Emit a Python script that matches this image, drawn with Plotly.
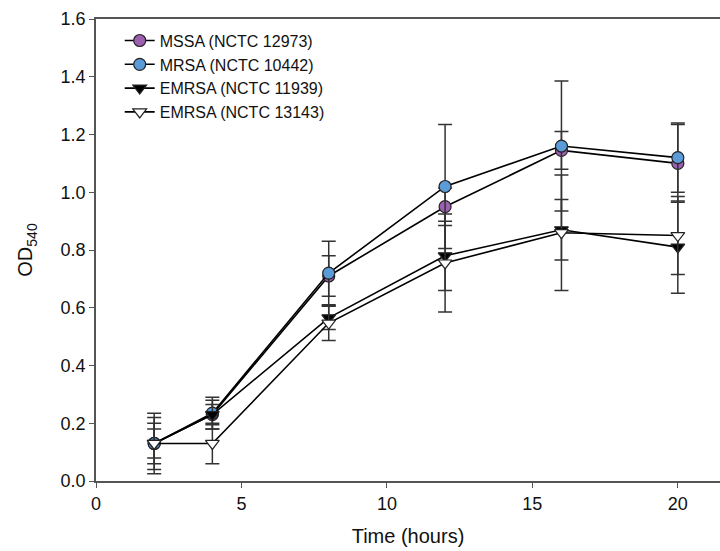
import plotly.graph_objects as go

# Sampling times (hours)
time_h = [2, 4, 8, 12, 16, 20]

# Mean OD540 readings per strain
mssa_12973 = [0.13, 0.23, 0.71, 0.95, 1.145, 1.10]
mrsa_10442 = [0.13, 0.235, 0.72, 1.02, 1.16, 1.12]
emrsa_11939 = [0.13, 0.23, 0.565, 0.78, 0.87, 0.81]
emrsa_13143 = [0.13, 0.13, 0.547, 0.755, 0.86, 0.85]

# Standard deviations
mssa_sd = [0.07, 0.05, 0.07, 0.065, 0.065, 0.135]
mrsa_sd = [0.09, 0.055, 0.11, 0.215, 0.225, 0.12]
emrsa_11939_sd = [0.05, 0.035, 0.04, 0.12, 0.105, 0.16]
emrsa_13143_sd = [0.105, 0.07, 0.06, 0.17, 0.20, 0.135]

series = [
    ("MSSA (NCTC 12973)", mssa_12973, mssa_sd, "circle", "#9d5fb0"),
    ("MRSA (NCTC 10442)", mrsa_10442, mrsa_sd, "circle", "#5b9bd8"),
    ("EMRSA (NCTC 11939)", emrsa_11939, emrsa_11939_sd, "triangle-down", "black"),
    ("EMRSA (NCTC 13143)", emrsa_13143, emrsa_13143_sd, "triangle-down", "white"),
]

fig = go.Figure()
for name, y, sd, sym, col in series:
    fig.add_trace(go.Scatter(
        x=time_h, y=y, name=name, mode="lines+markers",
        line=dict(color="black", width=1.6),
        marker=dict(symbol=sym, size=12, color=col,
                    line=dict(color="#222222", width=1.2)),
        error_y=dict(type="data", array=sd, visible=True,
                     color="#333333", thickness=1.5, width=7),
    ))

font = "Liberation Sans, Arial, sans-serif"
fig.update_layout(
    width=720, height=551,
    margin=dict(l=96, r=0, t=19, b=70),
    paper_bgcolor="white", plot_bgcolor="white",
    font=dict(family=font, size=17, color="#111111"),
    showlegend=True,
    legend=dict(x=0.038, y=0.99, xanchor="left", yanchor="top",
                bgcolor="rgba(0,0,0,0)", font=dict(size=16),
                tracegroupgap=0, itemwidth=30),
    xaxis=dict(range=[0, 21.45], tickvals=[0, 5, 10, 15, 20],
               showgrid=False, zeroline=False, showline=True,
               linecolor="#555555", linewidth=1.8, mirror=True,
               ticks="outside", ticklen=5, tickcolor="#555555",
               tickfont=dict(size=18),
               title=dict(text="Time (hours)", standoff=16, font=dict(size=20))),
    yaxis=dict(range=[0, 1.6], tickvals=[0, 0.2, 0.4, 0.6, 0.8, 1.0, 1.2, 1.4, 1.6],
               tickformat=".1f",
               showgrid=False, zeroline=False, showline=True,
               linecolor="#555555", linewidth=1.8,
               ticks="outside", ticklen=5, tickcolor="#555555",
               tickfont=dict(size=18),
               title=dict(text="OD<sub>540</sub>", standoff=22, font=dict(size=20))),
)

fig.write_html("out.html")
